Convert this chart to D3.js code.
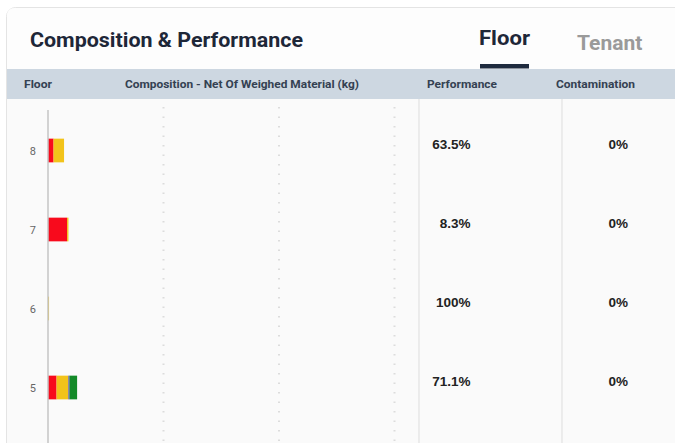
<!DOCTYPE html>
<html><head><meta charset="utf-8">
<script src="https://cdn.jsdelivr.net/npm/d3@7"></script>
<style>
html,body{margin:0;padding:0;background:#fff;}
svg{display:block;}
</style></head>
<body>
<svg id="c" width="675" height="443"></svg>
<script>
// ---- data ----
const floors = ["8", "7", "6", "5"];
const materials = ["Red", "Yellow", "Blue", "Green"];
const materialColors = ["#f80a1c", "#f2c31a", "#3d3db8", "#138a28"];
// kg per floor for each material
const redKg    = [4.8, 16.5, 0.0, 7.4];
const yellowKg = [9.1, 1.2, 0.9, 10.3];
const blueKg   = [0.0, 0.0, 0.0, 0.9];
const greenKg  = [0.0, 0.0, 0.0, 6.6];
const performance = ["63.5%", "8.3%", "100%", "71.1%"];
const contamination = ["0%", "0%", "0%", "0%"];
const gridTicks = [100, 200, 300];
const headers = ["Floor", "Composition - Net Of Weighed Material (kg)", "Performance", "Contamination"];
const title = "Composition & Performance";
const tabs = ["Floor", "Tenant"];

// ---- drawing ----
const svg = d3.select("#c");
const W = 675, H = 443;

// card
svg.append("rect").attr("x", 6.5).attr("y", 7.5).attr("width", 720).attr("height", 480)
  .attr("rx", 9).attr("fill", "#fafafa").attr("stroke", "#e4e4e4");
svg.append("path").attr("d", "M7,69 L7,16 Q7,8 15,8 L675,8 L675,69 Z").attr("fill", "#fdfdfd");

// title & tabs
svg.append("text").attr("x", 30).attr("y", 47).text(title)
  .attr("font-family", "Roboto").attr("font-weight", 700).attr("font-size", 20.5)
  .attr("textLength", 273).attr("lengthAdjust", "spacingAndGlyphs")
  .attr("fill", "#1e2738");
svg.append("text").attr("x", 479).attr("y", 45).text(tabs[0])
  .attr("font-family", "Roboto").attr("font-weight", 700).attr("font-size", 21)
  .attr("textLength", 51).attr("lengthAdjust", "spacingAndGlyphs")
  .attr("fill", "#1e2738");
svg.append("text").attr("x", 577).attr("y", 50).text(tabs[1])
  .attr("font-family", "Roboto").attr("font-weight", 700).attr("font-size", 21)
  .attr("fill", "#9a9a9a");
svg.append("rect").attr("x", 480).attr("y", 64).attr("width", 49).attr("height", 4.5)
  .attr("fill", "#1e2a3e");

// header band
svg.append("rect").attr("x", 7).attr("y", 69).attr("width", 668).attr("height", 30)
  .attr("fill", "#cdd7e1");
const headX = [24, 125, 427, 556];
const headLen = [28, 234, 70, 79];
svg.selectAll("text.hd").data(headers).join("text").attr("class", "hd")
  .attr("x", (d, i) => headX[i]).attr("y", 88).text(d => d)
  .attr("font-family", "Roboto").attr("font-weight", 700).attr("font-size", 11)
  .attr("textLength", (d, i) => headLen[i]).attr("lengthAdjust", "spacingAndGlyphs")
  .attr("fill", "#344152");

// column separators
[419, 562].forEach(x => svg.append("line").attr("x1", x).attr("x2", x)
  .attr("y1", 99).attr("y2", H).attr("stroke", "#e2e2e2").attr("stroke-width", 1.2));

// scales
const x = d3.scaleLinear().domain([0, 300]).range([48, 394.5]);
const y = d3.scaleBand().domain(floors).range([111, 427]).paddingInner(0.70).paddingOuter(0.35);

// grid
svg.append("g").selectAll("line").data(gridTicks).join("line")
  .attr("x1", d => x(d)).attr("x2", d => x(d)).attr("y1", 107).attr("y2", H)
  .attr("stroke", "#dcdcdc").attr("stroke-width", 2).attr("stroke-dasharray", "1.5,8");

// stacked bars
const rows = floors.map((f, i) => ({ floor: f, Red: redKg[i], Yellow: yellowKg[i], Blue: blueKg[i], Green: greenKg[i] }));
const stack = d3.stack().keys(materials)(rows);
const color = d3.scaleOrdinal().domain(materials).range(materialColors);
svg.append("g").selectAll("g").data(stack).join("g").attr("fill", d => color(d.key))
  .selectAll("rect").data(d => d).join("rect")
  .attr("x", d => x(d[0])).attr("width", d => x(d[1]) - x(d[0]))
  .attr("y", d => y(d.data.floor)).attr("height", y.bandwidth());

// y axis
const ax = svg.append("g").attr("transform", "translate(48,0)")
  .call(d3.axisLeft(y).tickSize(0).tickPadding(12));
ax.select(".domain").remove();
ax.selectAll("text").attr("font-family", "Roboto").attr("font-size", 11).attr("fill", "#666")
  .attr("dy", "0.45em");
svg.append("line").attr("x1", 48).attr("x2", 48).attr("y1", 110).attr("y2", H)
  .attr("stroke", "#c4c4c4").attr("stroke-width", 1.5);

// performance & contamination
const cy = f => y(f) + y.bandwidth() / 2;
svg.selectAll("text.pf").data(floors).join("text").attr("class", "pf")
  .attr("x", 470.5).attr("y", (f) => cy(f) - 2).attr("text-anchor", "end")
  .text((f, i) => performance[i])
  .attr("font-family", "Liberation Sans").attr("font-weight", 700).attr("font-size", 13.5).attr("fill", "#222");
svg.selectAll("text.ct").data(floors).join("text").attr("class", "ct")
  .attr("x", 628).attr("y", (f) => cy(f) - 2).attr("text-anchor", "end")
  .text((f, i) => contamination[i])
  .attr("font-family", "Liberation Sans").attr("font-weight", 700).attr("font-size", 13.5).attr("fill", "#222");
</script>
</body></html>
